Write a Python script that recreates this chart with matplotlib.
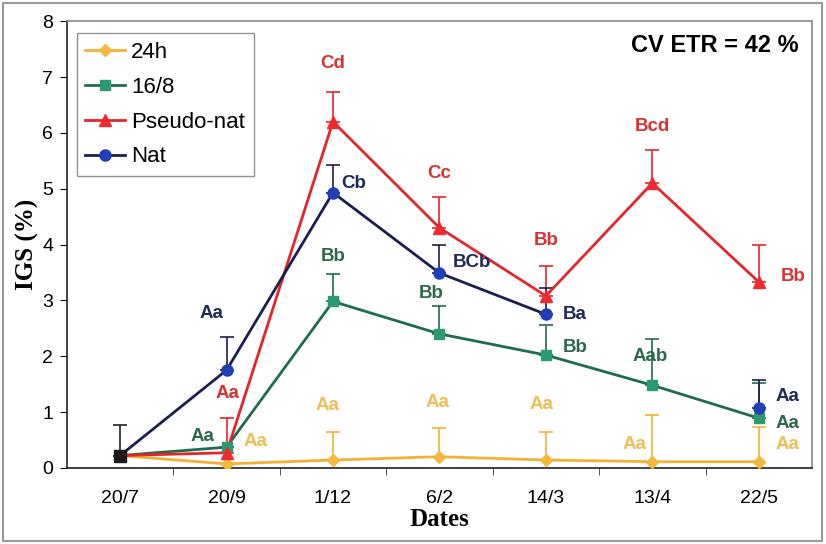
import numpy as np
import matplotlib
matplotlib.use("Agg")
import matplotlib.pyplot as plt
from matplotlib.patches import Rectangle
from matplotlib.ticker import FixedLocator

# IGS (%) through the season for each photoperiod treatment
dates = ['20/7', '20/9', '1/12', '6/2', '14/3', '13/4', '22/5']

igs_24h = [0.22, 0.07, 0.14, 0.20, 0.14, 0.11, 0.11]
igs_16_8 = [0.22, 0.37, 2.98, 2.40, 2.02, 1.48, 0.89]
igs_pseudo = [0.22, 0.27, 6.20, 4.30, 3.08, 5.10, 3.33]
igs_nat = [0.22, 1.75, 4.93, 3.49, 2.75, np.nan, 1.08]

# upper error bars only
err_24h = [0, 0, 0.51, 0.52, 0.51, 0.83, 0.63]
err_16_8 = [0, 0, 0.49, 0.49, 0.54, 0.82, 0.63]
err_pseudo = [0, 0.62, 0.53, 0.55, 0.53, 0.60, 0.66]
err_nat = [0, 0.59, 0.49, 0.50, 0.48, 0, 0.49]
start_err = 0.54

# significance letters: (text, date index, y, series)
letters = [
    ('Cd', 2, 7.24, 'pseudo'), ('Cc', 3, 5.27, 'pseudo'), ('Bb', 4, 4.08, 'pseudo'),
    ('Bcd', 5, 6.12, 'pseudo'), ('Bb', 6.32, 3.42, 'pseudo'), ('Aa', 1.01, 1.34, 'pseudo'),
    ('Aa', 0.86, 2.77, 'nat'), ('Cb', 2.19, 5.10, 'nat'), ('BCb', 3.31, 3.67, 'nat'),
    ('Ba', 4.27, 2.75, 'nat'), ('Aa', 6.27, 1.28, 'nat'),
    ('Aa', 0.77, 0.57, '16_8'), ('Bb', 2.00, 3.78, '16_8'), ('Bb', 2.92, 3.12, '16_8'),
    ('Bb', 4.28, 2.16, '16_8'), ('Aab', 4.98, 1.99, '16_8'), ('Aa', 6.27, 0.79, '16_8'),
    ('Aa', 1.27, 0.47, '24h'), ('Aa', 1.95, 1.12, '24h'), ('Aa', 2.98, 1.17, '24h'),
    ('Aa', 3.96, 1.13, '24h'), ('Aa', 4.83, 0.41, '24h'), ('Aa', 6.27, 0.41, '24h'),
]

line_col = {'24h': '#F2B134', '16_8': '#1F6B4F', 'pseudo': '#E4262C', 'nat': '#1B1F4E'}
mark_col = {'24h': '#F5B73C', '16_8': '#2C9A70', 'pseudo': '#EE2A2E', 'nat': '#1F3FB8'}
text_col = {'24h': '#F2BC55', '16_8': '#2A6A4C', 'pseudo': '#D8332F', 'nat': '#1E2B5A'}

fig = plt.figure(figsize=(8.26, 5.44), dpi=100)
ax = fig.add_axes([0.081, 0.140, 0.902, 0.821])
x = np.arange(len(dates))

series = [
    ('24h', igs_24h, err_24h, 'D', 6),
    ('16/8', igs_16_8, err_16_8, 's', 7),
    ('Pseudo-nat', igs_pseudo, err_pseudo, '^', 8),
    ('Nat', igs_nat, err_nat, 'o', 8),
]
keys = ['24h', '16_8', 'pseudo', 'nat']

for (name, vals, err, mk, ms), k in zip(series, keys):
    vals = np.array(vals, dtype=float)
    err = np.array(err, dtype=float)
    ax.errorbar(x[1:], vals[1:], yerr=[np.zeros(len(x) - 1), err[1:]],
                fmt='none', ecolor=line_col[k], elinewidth=1.2, capsize=5, capthick=1.2, zorder=2)
    ax.plot(x, vals, color=line_col[k], lw=2, zorder=3)
    ax.plot(x[1:], vals[1:], ls='none', marker=mk, ms=ms, color=mark_col[k],
            markeredgecolor=mark_col[k], zorder=4)
    ax.plot([], [], color=line_col[k], lw=2, marker=mk, ms=ms,
            markerfacecolor=mark_col[k], markeredgecolor=mark_col[k], label=name)

# shared starting point
ax.errorbar([x[0]], [igs_24h[0]], yerr=[[0], [start_err]], fmt='none', ecolor='#222222',
            elinewidth=1.2, capsize=5, capthick=1.2, zorder=2)
ax.plot([x[0]], [igs_24h[0]], marker='s', ms=9, color='#1a1a1a', zorder=5)

for txt, xi, yv, k in letters:
    ax.text(xi, yv, txt, color=text_col[k], fontsize=13.5, fontweight='bold',
            ha='center', va='center', family='Liberation Sans', zorder=6)

ax.text(0.982, 0.945, 'CV ETR = 42 %', transform=ax.transAxes, ha='right', va='center',
        fontsize=17, fontweight='bold', family='Liberation Sans')

ax.set_xlim(-0.5, 6.5)
ax.set_ylim(0, 8)
ax.set_xticks(x)
ax.set_xticklabels(dates, family='Liberation Sans', fontsize=14)
ax.xaxis.set_minor_locator(FixedLocator(np.arange(0.5, 6, 1)))
ax.tick_params(axis='x', which='major', length=0, pad=16)
ax.tick_params(axis='x', which='minor', length=5, direction='out', color='#333333')
ax.set_yticks(range(9))
ax.set_yticklabels([str(v) for v in range(9)], family='Liberation Sans', fontsize=14)
ax.tick_params(axis='y', length=5, direction='out', pad=5)

ax.set_ylabel('IGS (%)', family='Liberation Serif', fontweight='bold', fontsize=18, labelpad=2)
ax.set_xlabel('Dates', family='Liberation Serif', fontweight='bold', fontsize=18, labelpad=1)

ax.spines['left'].set_color('#222222')
ax.spines['bottom'].set_color('#222222')
ax.spines['top'].set_color('#888888')
ax.spines['right'].set_color('#888888')
for s in ax.spines.values():
    s.set_linewidth(1.2)

leg = ax.legend(loc='upper left', bbox_to_anchor=(0.013, 0.973), borderaxespad=0,
                frameon=True, fancybox=False, edgecolor='#777777',
                prop={'family': 'Liberation Sans', 'size': 16},
                handlelength=1.8, borderpad=0.4, labelspacing=0.62, handletextpad=0.25)
leg.get_frame().set_linewidth(1.0)

fig.patches.append(Rectangle((0.004, 0.006), 0.991, 0.988, transform=fig.transFigure,
                             fill=False, edgecolor='#999999', lw=1.5))

fig.savefig('out.png', dpi=100)
